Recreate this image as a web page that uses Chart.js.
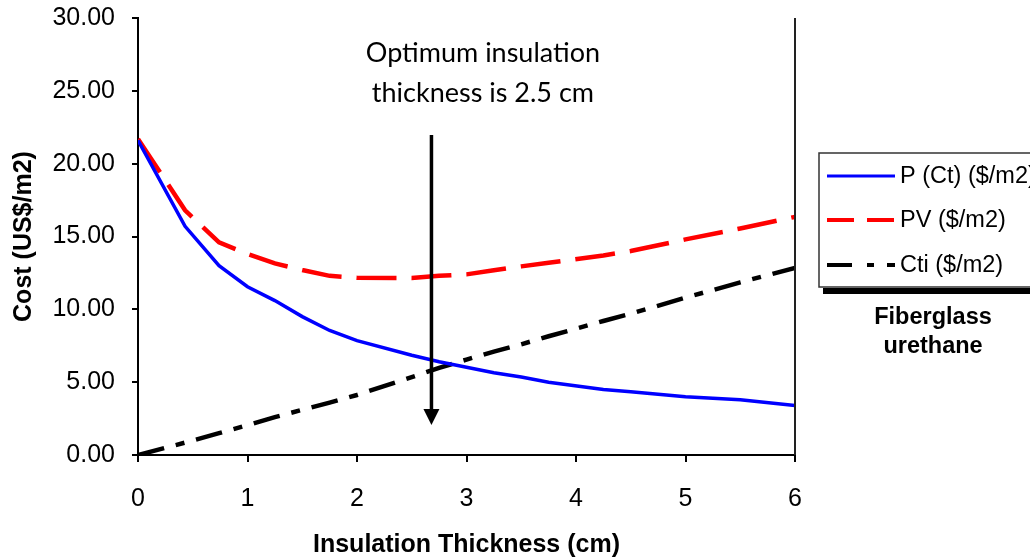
<!DOCTYPE html>
<html>
<head>
<meta charset="utf-8">
<script src="https://cdn.jsdelivr.net/npm/chart.js@4.4.1/dist/chart.umd.min.js"></script>
<style>
  html, body { margin: 0; padding: 0; background: #fff; }
  #wrap { width: 1030px; height: 560px; }
</style>
</head>
<body>
<div id="wrap"><canvas id="myChart" width="1030" height="560"></canvas></div>
<script>
// insulation thickness (cm)
var thickness = [0, 0.43, 0.74, 1.0, 1.25, 1.5, 1.75, 2.0, 2.5, 2.75, 3.0, 3.25, 3.5, 3.75, 4.25, 4.5, 5.0, 5.5, 6.0];
// P (Ct) ($/m2)
var pCost = [21.6, 15.7, 13.0, 11.55, 10.6, 9.5, 8.55, 7.85, 6.85, 6.4, 6.02, 5.65, 5.35, 5.0, 4.5, 4.35, 4.0, 3.8, 3.4];
// PV ($/m2)
var pvCost = [21.7, 16.8, 14.6, 13.8, 13.15, 12.7, 12.3, 12.17, 12.15, 12.3, 12.4, 12.68, 12.95, 13.2, 13.7, 14.0, 14.8, 15.55, 16.35];
// Cti ($/m2)
var ctiCost = [0, 0.85, 1.5, 2.05, 2.6, 3.1, 3.6, 4.12, 5.35, 5.98, 6.55, 7.1, 7.6, 8.15, 9.2, 9.7, 10.8, 11.85, 12.85];

var seriesLabels = ['P (Ct) ($/m2)', 'PV ($/m2)', 'Cti ($/m2)'];
var xTicks = [0, 1, 2, 3, 4, 5, 6];
var yTicks = [0, 5, 10, 15, 20, 25, 30];

// annotation: arrow at the optimum and its note
var arrowX = 2.68, arrowTop = 21.97, arrowTip = 2.06;
var noteX = 3.15, noteLines = ['Optimum insulation', 'thickness is 2.5 cm'], noteY = [26.98, 24.23];
var boxTitle = ['Fiberglass', 'urethane'];

function points(ys) {
  return thickness.map(function (x, i) { return { x: x, y: ys[i] }; });
}

var styles = [
  { color: '#0000ff', width: 3.5, dash: [], legendDash: [] },
  { color: '#ff0000', width: 4.5, dash: [40, 15], legendDash: [27, 13] },
  { color: '#000000', width: 4.5, dash: [27, 12, 9, 12], legendDash: [25, 15, 7, 13] }
];

var extras = {
  id: 'extras',
  afterDatasetsDraw: function (chart) {
    var c = chart.ctx, xs = chart.scales.x, ys = chart.scales.y, area = chart.chartArea;
    c.save();
    // right edge of plot
    c.strokeStyle = '#222';
    c.lineWidth = 2;
    c.beginPath();
    c.moveTo(area.right, area.top);
    c.lineTo(area.right, area.bottom);
    c.stroke();

    // arrow
    var ax = xs.getPixelForValue(arrowX);
    var at = ys.getPixelForValue(arrowTop);
    var ab = ys.getPixelForValue(arrowTip);
    c.strokeStyle = '#000';
    c.lineWidth = 3.5;
    c.beginPath();
    c.moveTo(ax, at);
    c.lineTo(ax, ab - 12);
    c.stroke();
    c.fillStyle = '#000';
    c.beginPath();
    c.moveTo(ax - 8, ab - 16);
    c.lineTo(ax + 8, ab - 16);
    c.lineTo(ax, ab);
    c.closePath();
    c.fill();

    // note
    c.font = '27px Lato, "Open Sans", sans-serif';
    c.textAlign = 'center';
    c.textBaseline = 'alphabetic';
    var nx = xs.getPixelForValue(noteX);
    noteLines.forEach(function (t, i) {
      c.fillText(t, nx, ys.getPixelForValue(noteY[i]));
    });

    // legend box
    var bx = 819, by = 153, bw = 215, bh = 134;
    c.fillStyle = '#000';
    c.fillRect(bx + 4, by + bh + 1, bw, 6);
    c.fillStyle = '#fff';
    c.fillRect(bx, by, bw, bh);
    c.strokeStyle = '#333';
    c.lineWidth = 1.5;
    c.strokeRect(bx, by, bw, bh);

    c.font = '23.5px "Liberation Sans", Arial, sans-serif';
    c.textAlign = 'left';
    c.textBaseline = 'middle';
    var rows = [176, 220, 265];
    styles.forEach(function (s, i) {
      c.strokeStyle = s.color;
      c.lineWidth = s.width - 0.5;
      c.setLineDash(s.legendDash);
      c.beginPath();
      c.moveTo(827, rows[i]);
      c.lineTo(895, rows[i]);
      c.stroke();
      c.setLineDash([]);
      c.fillStyle = '#000';
      c.fillText(seriesLabels[i], 900, rows[i] + 1);
    });

    c.font = 'bold 23.5px "Liberation Sans", Arial, sans-serif';
    c.textAlign = 'center';
    c.fillText(boxTitle[0], 933, 318);
    c.fillText(boxTitle[1], 933, 347);
    c.restore();
  }
};

var ctx = document.getElementById('myChart').getContext('2d');
var myChart = new Chart(ctx, {
  type: 'line',
  data: {
    datasets: [pCost, pvCost, ctiCost].map(function (ys, i) {
      return {
        label: seriesLabels[i],
        data: points(ys),
        borderColor: styles[i].color,
        backgroundColor: styles[i].color,
        borderWidth: styles[i].width,
        borderDash: styles[i].dash,
        pointRadius: 0,
        tension: 0,
        fill: false
      };
    })
  },
  options: {
    responsive: false,
    animation: false,
    devicePixelRatio: 1,
    layout: { padding: { top: 18, right: 235, left: 0, bottom: 0 } },
    plugins: {
      legend: { display: false },
      tooltip: { enabled: false }
    },
    scales: {
      x: {
        type: 'linear',
        min: 0,
        max: 6,
        afterFit: function (s) {
          s.height = 105;
          s.paddingLeft = 0;
          s.paddingRight = 0;
        },
        afterBuildTicks: function (s) { s.ticks = xTicks.map(function (v) { return { value: v }; }); },
        ticks: {
          color: '#000',
          padding: 22,
          maxRotation: 0,
          font: { family: '"Liberation Sans", Arial, sans-serif', size: 25 }
        },
        grid: { drawOnChartArea: false, drawTicks: true, tickLength: 7, color: '#000', lineWidth: 2 },
        border: { color: '#000', width: 2 },
        title: {
          display: true,
          text: 'Insulation Thickness (cm)',
          color: '#000',
          padding: { top: 0, bottom: 0 },
          font: { family: '"Liberation Sans", Arial, sans-serif', size: 25, weight: 'bold' }
        }
      },
      y: {
        min: 0,
        max: 30,
        afterFit: function (s) {
          s.width = 138;
          s.paddingTop = 0;
          s.paddingBottom = 0;
        },
        afterBuildTicks: function (s) { s.ticks = yTicks.map(function (v) { return { value: v }; }); },
        ticks: {
          color: '#000',
          padding: 17,
          callback: function (v) { return Number(v).toFixed(2); },
          font: { family: '"Liberation Sans", Arial, sans-serif', size: 25 }
        },
        grid: { drawOnChartArea: false, drawTicks: true, tickLength: 6, color: '#000', lineWidth: 2 },
        border: { color: '#000', width: 2 },
        title: {
          display: true,
          text: 'Cost (US$/m2)',
          color: '#000',
          padding: { top: 9, bottom: 0 },
          font: { family: '"Liberation Sans", Arial, sans-serif', size: 25, weight: 'bold' }
        }
      }
    }
  },
  plugins: [extras]
});
</script>
</body>
</html>
